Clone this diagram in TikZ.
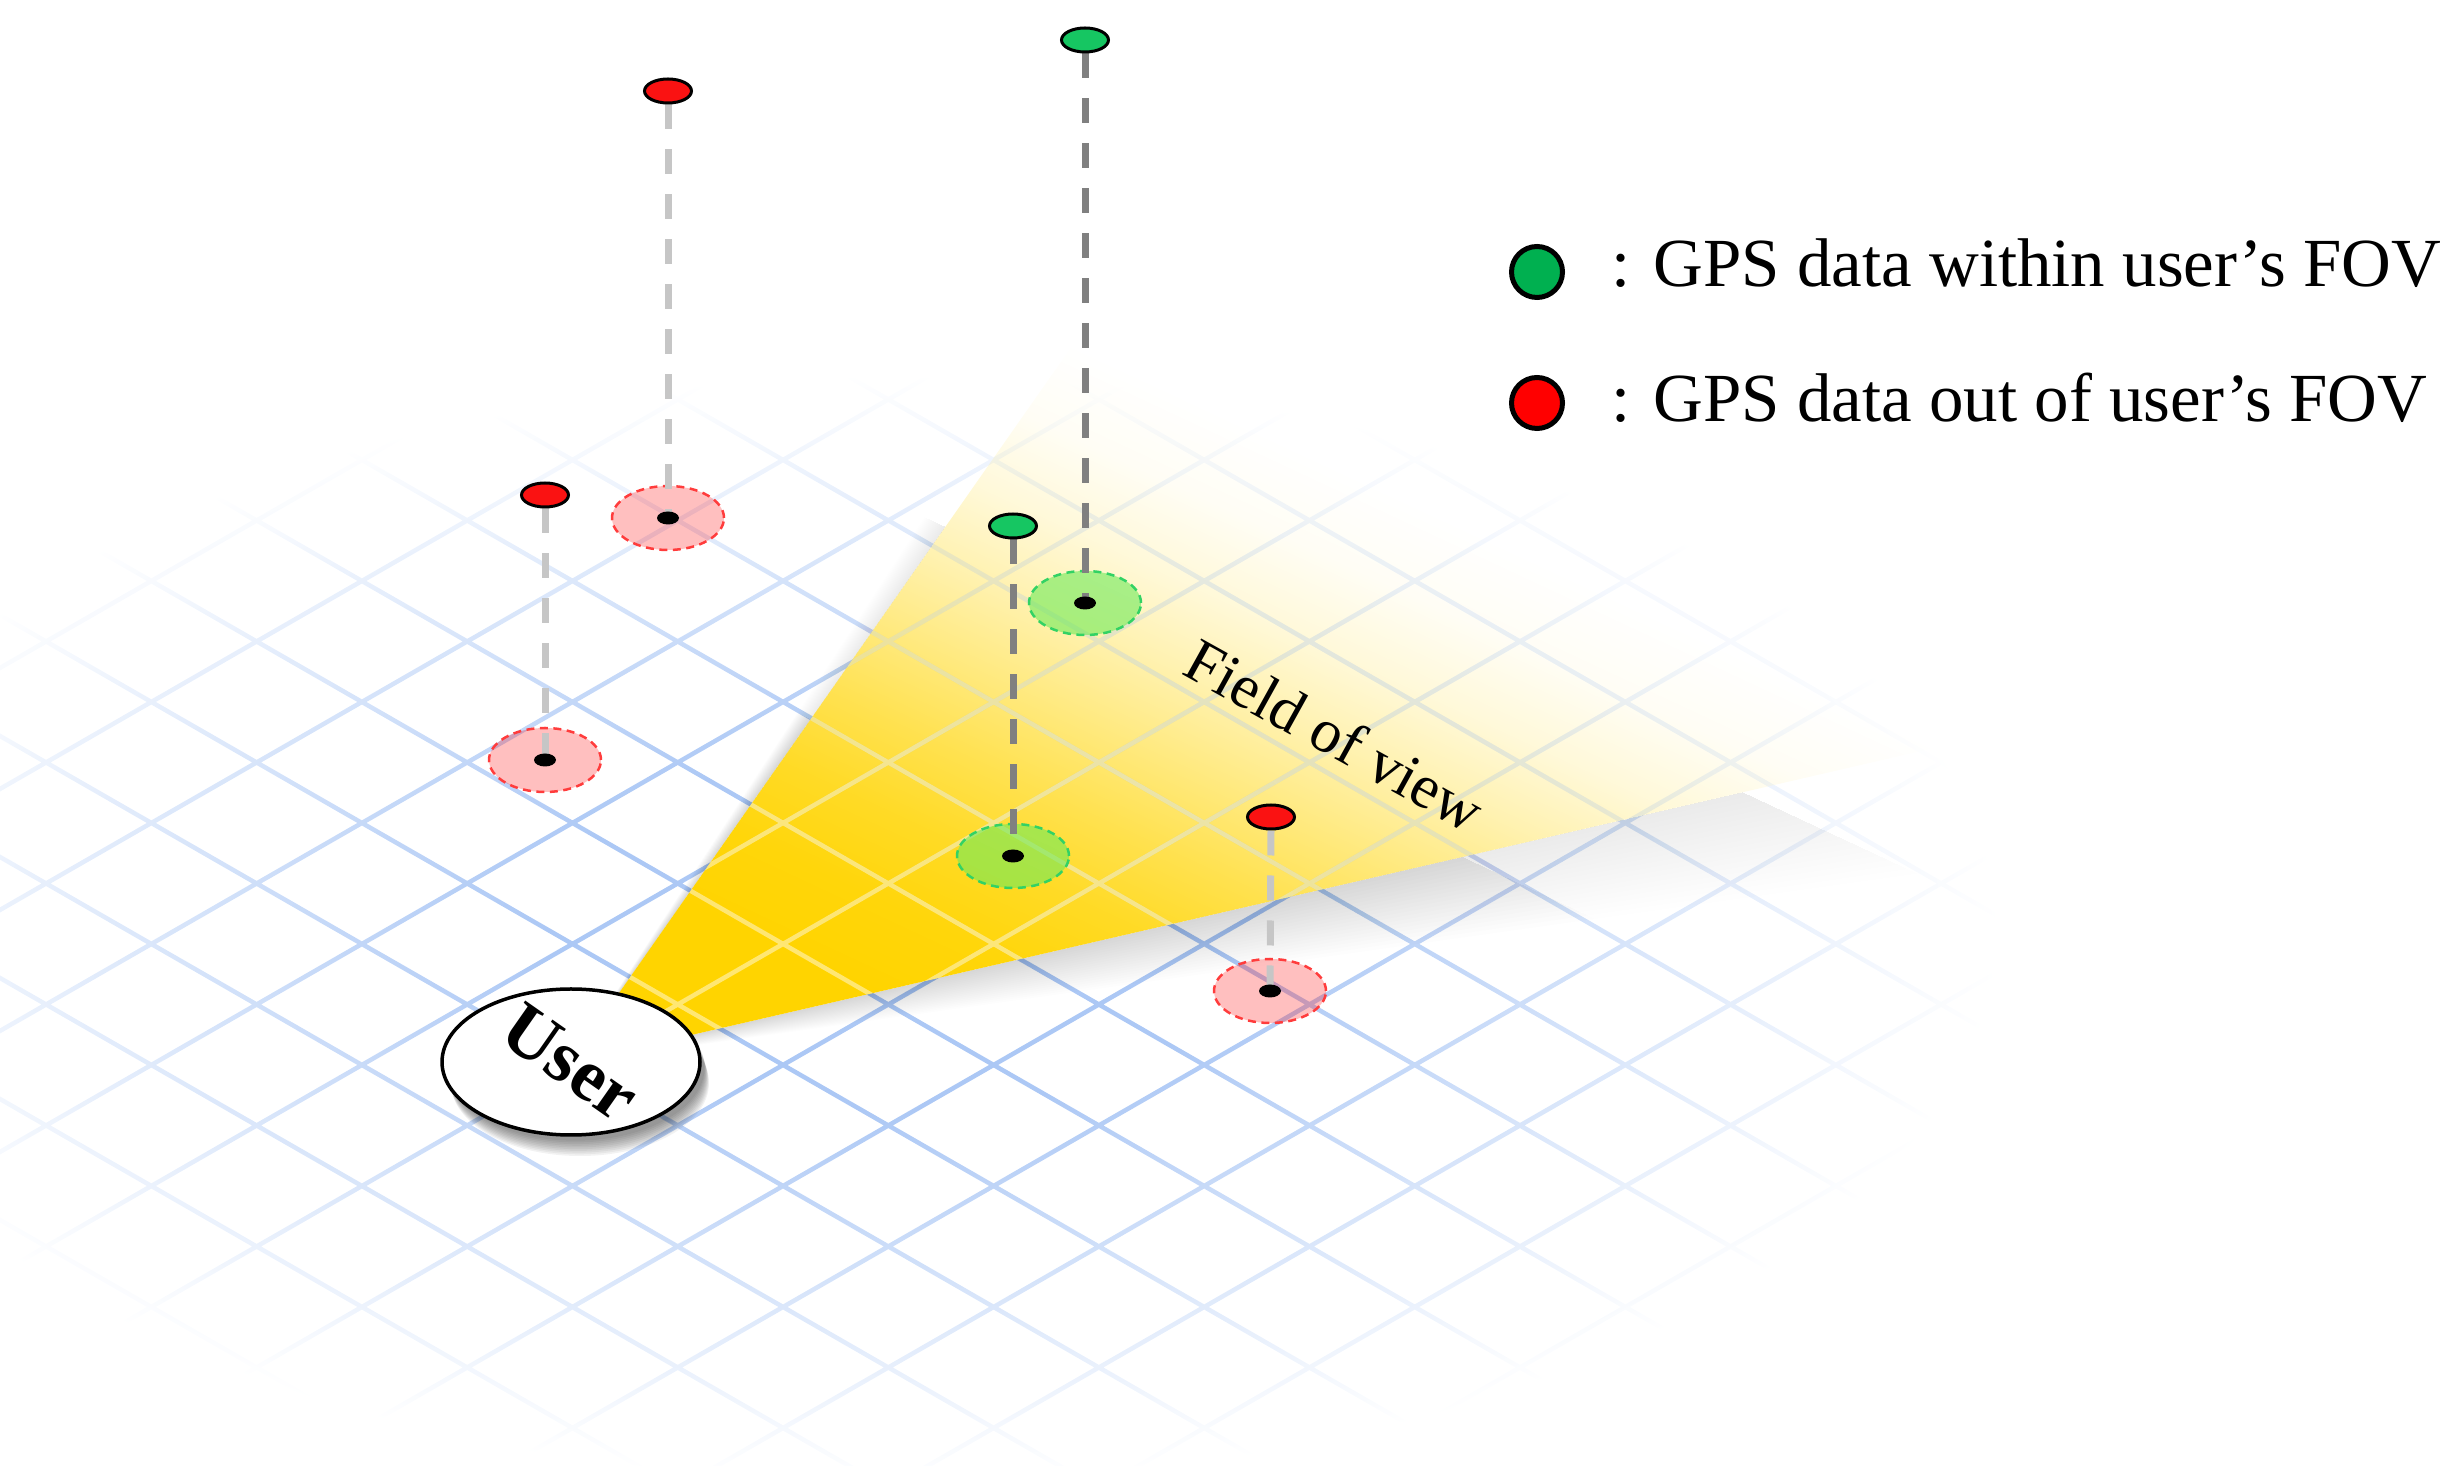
\documentclass[tikz,border=0pt]{standalone}
\usepackage{fontspec}
\setmainfont{Liberation Serif}
\usetikzlibrary{shapes.geometric,fadings,calc}
\pgfdeclarelayer{bg}
\pgfdeclarelayer{ln}
\pgfsetlayers{bg,ln,main}
\pgfdeclareradialshading{gridsh}{\pgfpointorigin}{color(0bp)=(white); color(16bp)=(white); color(26bp)=(black!30); color(36bp)=(black!62); color(45bp)=(black!88); color(50bp)=(black)}
\pgfdeclarefading{gridfade}{\pgfuseshading{gridsh}}
\pgfdeclareverticalshading{fovsh}{1200bp}{color(0bp)=(white); color(355bp)=(white); color(379bp)=(black!4); color(403bp)=(black!15); color(426bp)=(black!31); color(450bp)=(black!50); color(474bp)=(black!69); color(497bp)=(black!85); color(521bp)=(black!96); color(545bp)=(black); color(600bp)=(black)}
\pgfdeclarefading{fovfade}{\pgfuseshading{fovsh}}
\pgfdeclareverticalshading{shadsh}{1200bp}{color(0bp)=(white); color(420bp)=(white); color(455bp)=(black!20); color(490bp)=(black!55); color(520bp)=(black!85); color(550bp)=(black); color(600bp)=(black)}
\pgfdeclarefading{shadfade}{\pgfuseshading{shadsh}}
\definecolor{gridblue}{RGB}{172,200,245}
\definecolor{fovyellow}{RGB}{255,212,0}
\definecolor{pinred}{RGB}{250,18,18}
\definecolor{pingreen}{RGB}{22,198,98}
\definecolor{legendgreen}{RGB}{0,176,80}
\definecolor{lightline}{RGB}{198,198,198}
\definecolor{darkline}{RGB}{128,128,128}
\definecolor{diskred}{RGB}{255,60,60}
\definecolor{diskgreen}{RGB}{50,210,100}
\definecolor{diskgreenfill}{RGB}{110,235,90}
\newcommand\gridlines{%
  \foreach \k in {-14,...,18} {
    ({362+105.3*(\k-14)},{823+60.5*(-14-\k)}) -- ({362+105.3*(\k+18)},{823+60.5*(18-\k)})
    ({362+105.3*(\k-14)},{823+60.5*(\k+14)}) -- ({362+105.3*(\k+18)},{823+60.5*(\k-18)})
  }}
\begin{document}
\begin{tikzpicture}[x=0.1mm, y=-0.1mm,
  gridfadestyle/.style={path fading=gridfade, fit fading=false, fading transform={shift={(900,930)}, xscale=6.24, yscale=3.15}},
  fovfadestyle/.style={path fading=fovfade, fit fading=false, fading transform={shift={(570,1063)}, rotate=-25}},
  shadfadestyle/.style={path fading=shadfade, fit fading=false, fading transform={shift={(570,1063)}, rotate=-25}},
  pinhead/.style={ellipse, draw=black, line width=0.3mm, minimum width=4.7mm, minimum height=2.4mm, inner sep=0pt},
  redhead/.style={pinhead, fill=pinred},
  greenhead/.style={pinhead, fill=pingreen},
  pindisk/.style={ellipse, minimum width=11.2mm, minimum height=6.4mm, inner sep=0pt, line width=0.25mm, dash pattern=on 0.8mm off 0.55mm},
  reddisk/.style={pindisk, draw=diskred, fill=red, fill opacity=0.25},
  greendisk/.style={pindisk, draw=diskgreen, fill=diskgreenfill, fill opacity=0.6},
  pindot/.style={ellipse, fill=black, minimum width=2.2mm, minimum height=1.3mm, inner sep=0pt},
  pinpole/.style={line width=0.7mm, dash pattern=on 2.5mm off 2mm},
  redpole/.style={pinpole, draw=lightline},
  greenpole/.style={pinpole, draw=darkline},
  legdot/.style={circle, draw=black, line width=0.5mm, minimum size=5.1mm, inner sep=0pt},
  legtext/.style={font=\fontsize{19.6}{23}\selectfont, inner sep=0pt, anchor=base west},
  userbox/.style={ellipse, draw=black, line width=0.35mm, fill=white, minimum width=25.8mm, minimum height=14.6mm, inner sep=0pt}
]
\path[use as bounding box] (0,0) rectangle (2462,1466);
\coordinate (apex) at (570,1063);
\coordinate (fovL) at ({570+1600*cos(55)},{1063-1600*sin(55)});
\coordinate (fovR) at ({570+1600*cos(13)},{1063-1600*sin(13)});

\begin{pgfonlayer}{bg}
  % ground grid
  \draw[gridblue, line width=0.45mm, gridfadestyle] \gridlines;
  % soft shadow along the edges of the field of view
  \foreach \k in {1,...,20} {
    \fill[black, opacity=0.008, shadfadestyle] (apex) -- (fovR) -- ({570+1600*cos(13-0.25*\k)},{1063-1600*sin(13-0.25*\k)}) -- cycle;
    \fill[black, opacity=0.008, fovfadestyle] (apex) -- (fovL) -- ({570+1600*cos(55+0.1*\k)},{1063-1600*sin(55+0.1*\k)}) -- cycle;
  }
  % field of view
  \fill[fovyellow, fovfadestyle] (apex) -- (fovL) -- (fovR) -- cycle;
  \begin{scope}
    \clip (apex) -- (fovL) -- (fovR) -- cycle;
    \draw[white, opacity=0.45, line width=0.45mm, gridfadestyle] \gridlines;
  \end{scope}
  % shadow of the user disc
  \foreach \k in {1,...,10} {
    \fill[black, opacity=0.05] (575+0.5*\k,1066+1.7*\k) ellipse [x radius=129, y radius=73];
  }
  % ground markers
  \node[reddisk] (Adisk) at (668,518) {};
  \node[reddisk] (Bdisk) at (545,760) {};
  \node[greendisk] (Cdisk) at (1085,603) {};
  \node[greendisk] (Ddisk) at (1013,856) {};
  \node[reddisk] (Edisk) at (1270,991) {};
\end{pgfonlayer}

% ground dots and pin heads
\node[pindot] (Adot) at (668,518) {};
\node[pindot] (Bdot) at (545,760) {};
\node[pindot] (Cdot) at (1085,603) {};
\node[pindot] (Ddot) at (1013,856) {};
\node[pindot] (Edot) at (1270,991) {};
\node[redhead] (Ahead) at (668,91) {};
\node[redhead] (Bhead) at (545,495) {};
\node[greenhead] (Chead) at (1085,40) {};
\node[greenhead] (Dhead) at (1013,526) {};
\node[redhead] (Ehead) at (1271,817) {};

\begin{pgfonlayer}{ln}
  \draw[redpole] (Ahead.south) -- (Adot.center);
  \draw[redpole] (Bhead.south) -- (Bdot.center);
  \draw[greenpole] (Chead.south) -- (Cdot.center);
  \draw[greenpole] (Dhead.south) -- (Ddot.center);
  \draw[redpole] (Ehead.south) -- (Edot.center);
\end{pgfonlayer}

% user
\node[userbox] (user) at (571,1062) {};
\node[rotate=-35, font=\fontsize{21}{24}\selectfont\bfseries, inner sep=0pt] (usertext) at (user.center) {User};

% field of view label
\node[rotate=-29, font=\fontsize{17.6}{20}\selectfont, inner sep=0pt] (fovlabel) at (1335,735) {Field of view};

% legend
\node[legdot, fill=legendgreen] (lg) at (1537,272) {};
\node[legdot, fill=red] (lr) at (1537,403) {};
\node[legtext] (lgt) at (1611,287) {: GPS data within user’s FOV};
\node[legtext] (lrt) at (1611,422) {: GPS data out of user’s FOV};
\end{tikzpicture}
\end{document}
